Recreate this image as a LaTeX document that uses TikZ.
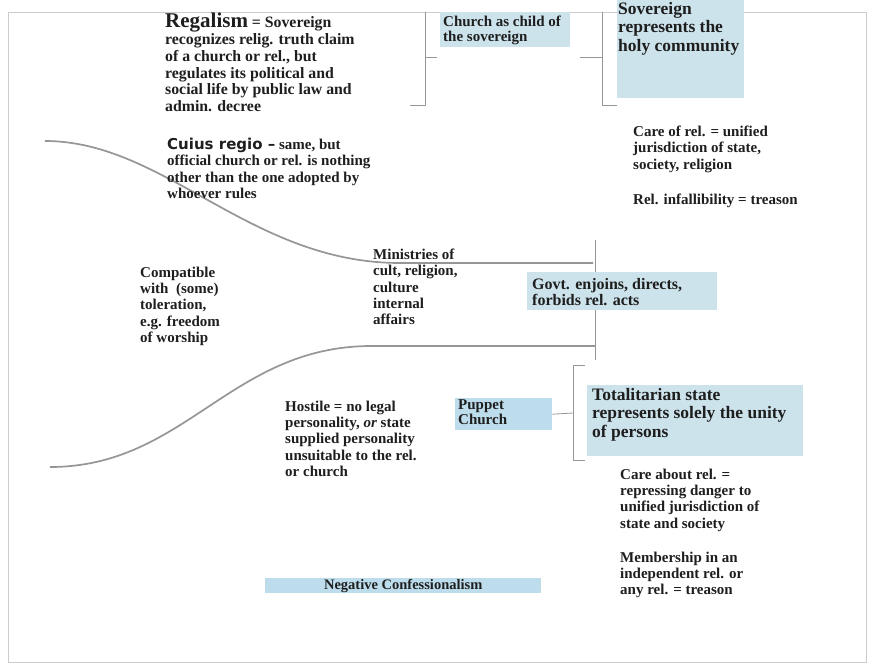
\documentclass[tikz,border=0pt]{standalone}
\usepackage{fontspec}
\setmainfont{Liberation Serif}
\newfontfamily\headsans{DejaVu Sans}
\definecolor{boxblue}{RGB}{205,227,235}
\definecolor{boxblue2}{RGB}{190,221,236}
\definecolor{linegray}{RGB}{150,150,150}
\definecolor{inkc}{RGB}{30,30,30}
\begin{document}
\begin{tikzpicture}[x=1pt,y=-1pt,
  txt/.style={anchor=north west, inner sep=0pt, align=left, font=\bfseries\fontsize{15}{16.4}\selectfont, text=inkc},
  bigtxt/.style={txt, font=\bfseries\fontsize{17.5}{18.5}\selectfont},
  bluebox/.style={fill=boxblue, draw=none, inner sep=0pt},
  curve/.style={draw=linegray, line width=1.7pt},
  brk/.style={draw=linegray, line width=0.8pt}]
\useasboundingbox (0,0) rectangle (877,666);
\fill[white] (0,0) rectangle (877,666);
\draw[gray!40, line width=0.7pt] (8,12) rectangle (866,662);

% boxes
\node[bluebox, minimum width=130pt, minimum height=35pt, anchor=north west] (churchbox) at (440,12) {};
\node[bluebox, minimum width=127pt, minimum height=98pt, anchor=north west] (sovbox) at (617,0) {};
\node[bluebox, fill=boxblue2, minimum width=97pt, minimum height=32pt, anchor=north west] (puppetbox) at (455,398) {};
\node[bluebox, minimum width=216pt, minimum height=71pt, anchor=north west] (totbox) at (587,385) {};
\node[bluebox, fill=boxblue2, minimum width=276pt, minimum height=15pt, anchor=north west] (negbox) at (265,578) {};

% bracket coordinates
\coordinate (b1t) at (425,12);
\coordinate (b1m) at (425,57);
\coordinate (b1b) at (425,105);
\coordinate (b2t) at (602,12);
\coordinate (b2m) at (602,57);
\coordinate (b2b) at (602,105);
\coordinate (b3t) at (595,240);
\coordinate (b3b) at (595,360);
\coordinate (b4t) at (573,365);
\coordinate (b4m) at (573,413);
\coordinate (b4b) at (573,460);

\draw[brk] (410,105) -- (b1b) -- (b1t);
\draw[brk] (b1m) -- ++(12,0);
\draw[brk] (b2t) -- (b2b) -- ++(15,0);
\draw[brk] (b2m) -- ++(-22,0);
\draw[brk] (b3t) -- (b3b);
\draw[brk] (b4t) -- (b4b) -- ++(12,0);
\draw[brk] (b4t) -- ++(12,0);
\draw[brk] (puppetbox.east) -- (b4m);

% curves
\coordinate (c1s) at (45,141);
\coordinate (c1e) at (593,263);
\coordinate (c2s) at (50,467);
\coordinate (c2e) at (595,346);
\draw[curve] (c1s) .. controls (165,141) and (250,263) .. (400,263) -- (c1e);
\draw[curve] (c2s) .. controls (185,467) and (230,347) .. (370,346) -- (c2e);

% govt box drawn over the bracket line
\node[bluebox, minimum width=190pt, minimum height=38pt, anchor=north west] (govtbox) at (527,272) {};

% texts
\node[txt, font=\bfseries\fontsize{15.8}{16.8}\selectfont] (regal) at (165,13) {{\fontsize{21}{22}\selectfont Regalism} = Sovereign\\
recognizes relig. truth claim\\
of a church or rel., but\\
regulates its political and\\
social life by public law and\\
admin. decree};
\node[txt] (churchtxt) at (443,15.5) {Church as child of\\[-1pt] the sovereign};
\node[bigtxt] (sovtxt) at (618,2) {Sovereign\\ represents the\\ holy community};
\node[txt] (cuius) at (167,138) {{\headsans\bfseries\fontsize{15}{17}\selectfont Cuius regio –} same, but\\
official church or rel. is nothing\\
other than the one adopted by\\
whoever rules};
\node[txt] (care1) at (633,125.5) {Care of rel. = unified\\ jurisdiction of state,\\ society, religion};
\node[txt] (infall) at (633,193.5) {Rel. infallibility = treason};
\node[txt] (compat) at (140,266.5) {Compatible\\ with \ (some)\\ toleration,\\ e.g. freedom\\ of worship};
\node[txt] (minis) at (373,248.5) {Ministries of\\ cult, religion,\\ culture\\ internal\\ affairs};
\node[txt, font=\bfseries\fontsize{16}{16}\selectfont] (govttxt) at (532,278) {Govt. enjoins, directs,\\ forbids rel. acts};
\node[txt] (hostile) at (285,400.5) {Hostile = no legal\\ personality, \textit{or} state\\ supplied personality\\ unsuitable to the rel.\\ or church};
\node[txt] (puppettxt) at (458,399.5) {Puppet\\[-1pt] Church};
\node[bigtxt] (tottxt) at (592,388) {Totalitarian state\\ represents solely the unity\\ of persons};
\node[txt] (care2) at (620,468.5) {Care about rel. =\\ repressing danger to\\ unified jurisdiction of\\ state and society};
\node[txt] (member) at (620,551.5) {Membership in an\\ independent rel. or\\ any rel. = treason};
\node[inner sep=0pt, font=\bfseries\fontsize{14.5}{14.5}\selectfont, text=inkc] (negtxt) at (negbox.center) {Negative Confessionalism};
\end{tikzpicture}
\end{document}
